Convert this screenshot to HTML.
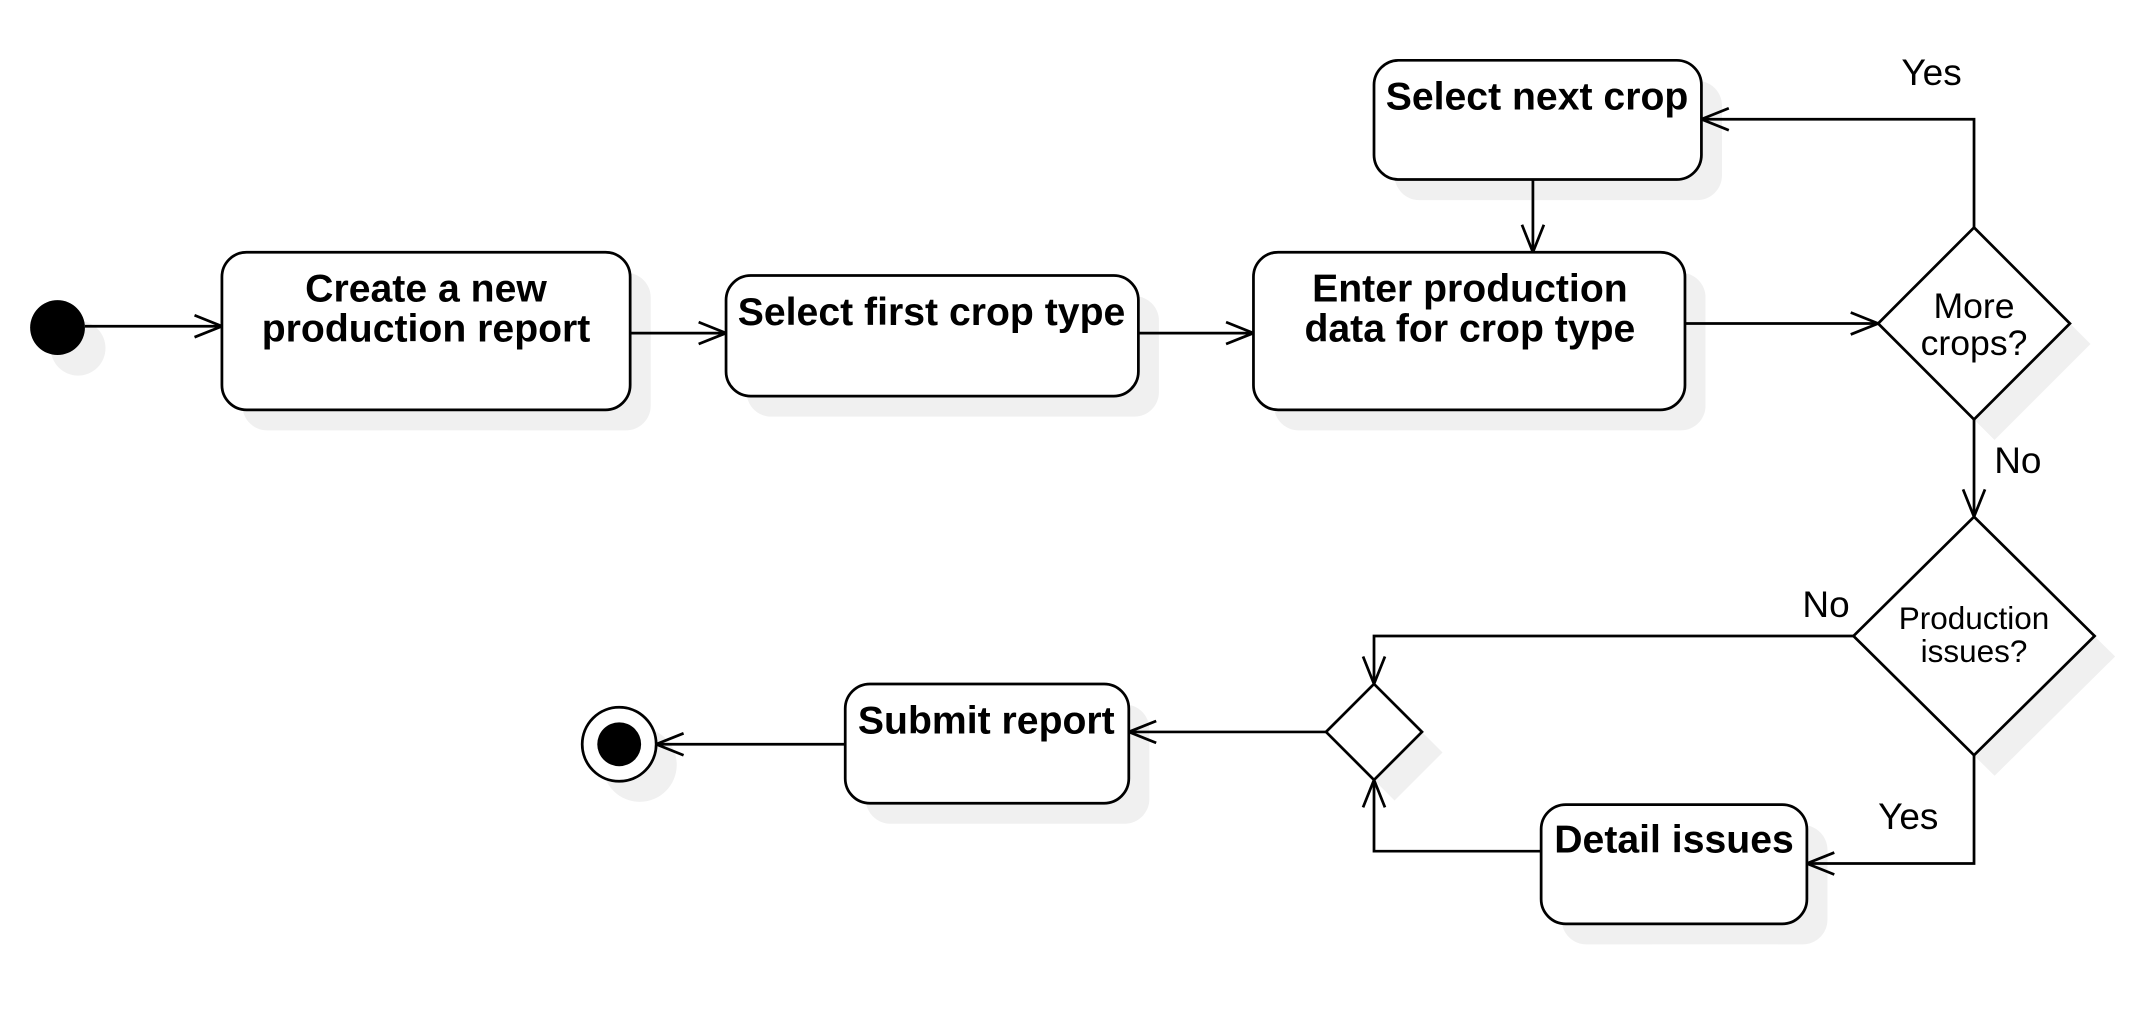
<!DOCTYPE html>
<html><head><meta charset="utf-8"><style>
html,body{margin:0;padding:0;background:#fff;width:2148px;height:1028px;overflow:hidden}
svg{display:block}
.b{font-family:"Liberation Sans",sans-serif;font-weight:bold;font-size:28.6px;text-anchor:middle;fill:#000}
.n{font-family:"Liberation Sans",sans-serif;font-size:26px;text-anchor:middle;fill:#000}
</style></head><body>
<svg width="2148" height="1028" viewBox="0 0 1568 750" preserveAspectRatio="none" xmlns="http://www.w3.org/2000/svg">
<defs><marker id="a" markerWidth="24" markerHeight="20" refX="21" refY="10" orient="auto" markerUnits="userSpaceOnUse"><path d="M1,2 L21,10 L1,18" fill="none" stroke="#000" stroke-width="2"/></marker></defs>
<g fill="#f0f0f0">
<circle cx="57" cy="254" r="20"/>
<rect x="177" y="199" width="298" height="115" rx="18"/>
<rect x="545" y="216" width="301" height="88" rx="18"/>
<rect x="930" y="199" width="315" height="115" rx="18"/>
<rect x="1018" y="59" width="239" height="87" rx="18"/>
<polygon points="1456,181 1526,251 1456,321 1386,251"/>
<polygon points="1456,392 1544,479 1456,566 1368,479"/>
<polygon points="1018,514 1053,549 1018,584 983,549"/>
<rect x="632" y="514" width="207" height="87" rx="18"/>
<rect x="1140" y="602" width="194" height="87" rx="18"/>
<circle cx="467" cy="558" r="27"/>
</g>
<g fill="none" stroke="#000" stroke-width="2">
<path d="M62,238 H162" marker-end="url(#a)"/>
<path d="M460,243 H530" marker-end="url(#a)"/>
<path d="M831,243 H915" marker-end="url(#a)"/>
<path d="M1230,236 H1371" marker-end="url(#a)"/>
<path d="M1441,166 V87 H1242" marker-end="url(#a)"/>
<path d="M1119,131 V184" marker-end="url(#a)"/>
<path d="M1441,306 V377" marker-end="url(#a)"/>
<path d="M1353,464 H1003 V499" marker-end="url(#a)"/>
<path d="M1441,551 V630 H1319" marker-end="url(#a)"/>
<path d="M1125,621 H1003 V569" marker-end="url(#a)"/>
<path d="M968,534 H824" marker-end="url(#a)"/>
<path d="M617,543 H479" marker-end="url(#a)"/>
</g>
<g fill="#fff" stroke="#000" stroke-width="2">
<rect x="162" y="184" width="298" height="115" rx="18"/>
<rect x="530" y="201" width="301" height="88" rx="18"/>
<rect x="915" y="184" width="315" height="115" rx="18"/>
<rect x="1003" y="44" width="239" height="87" rx="18"/>
<polygon points="1441,166 1511,236 1441,306 1371,236"/>
<polygon points="1441,377 1529,464 1441,551 1353,464"/>
<polygon points="1003,499 1038,534 1003,569 968,534"/>
<rect x="617" y="499" width="207" height="87" rx="18"/>
<rect x="1125" y="587" width="194" height="87" rx="18"/>
<circle cx="452" cy="543" r="27"/>
</g>
<circle cx="42" cy="239" r="20" fill="#000"/>
<circle cx="452" cy="543" r="16" fill="#000"/>
<text class="b" x="311" y="220">Create a new</text>
<text class="b" x="311" y="249">production report</text>
<text class="b" x="680" y="237">Select first crop type</text>
<text class="b" x="1073" y="220">Enter production</text>
<text class="b" x="1073" y="249">data for crop type</text>
<text class="b" x="1122" y="80">Select next crop</text>
<text class="b" x="720" y="535">Submit report</text>
<text class="b" x="1222" y="622">Detail issues</text>
<text class="n" x="1441" y="232">More</text>
<text class="n" x="1441" y="259">crops?</text>
<text class="n" x="1441" y="459" style="font-size:23px">Production</text>
<text class="n" x="1441" y="483" style="font-size:23px">issues?</text>
<text class="n" x="1410" y="62" style="font-size:27px">Yes</text>
<text class="n" x="1473" y="345" style="font-size:27px">No</text>
<text class="n" x="1333" y="450" style="font-size:27px">No</text>
<text class="n" x="1393" y="605" style="font-size:27px">Yes</text>
</svg>
</body></html>
